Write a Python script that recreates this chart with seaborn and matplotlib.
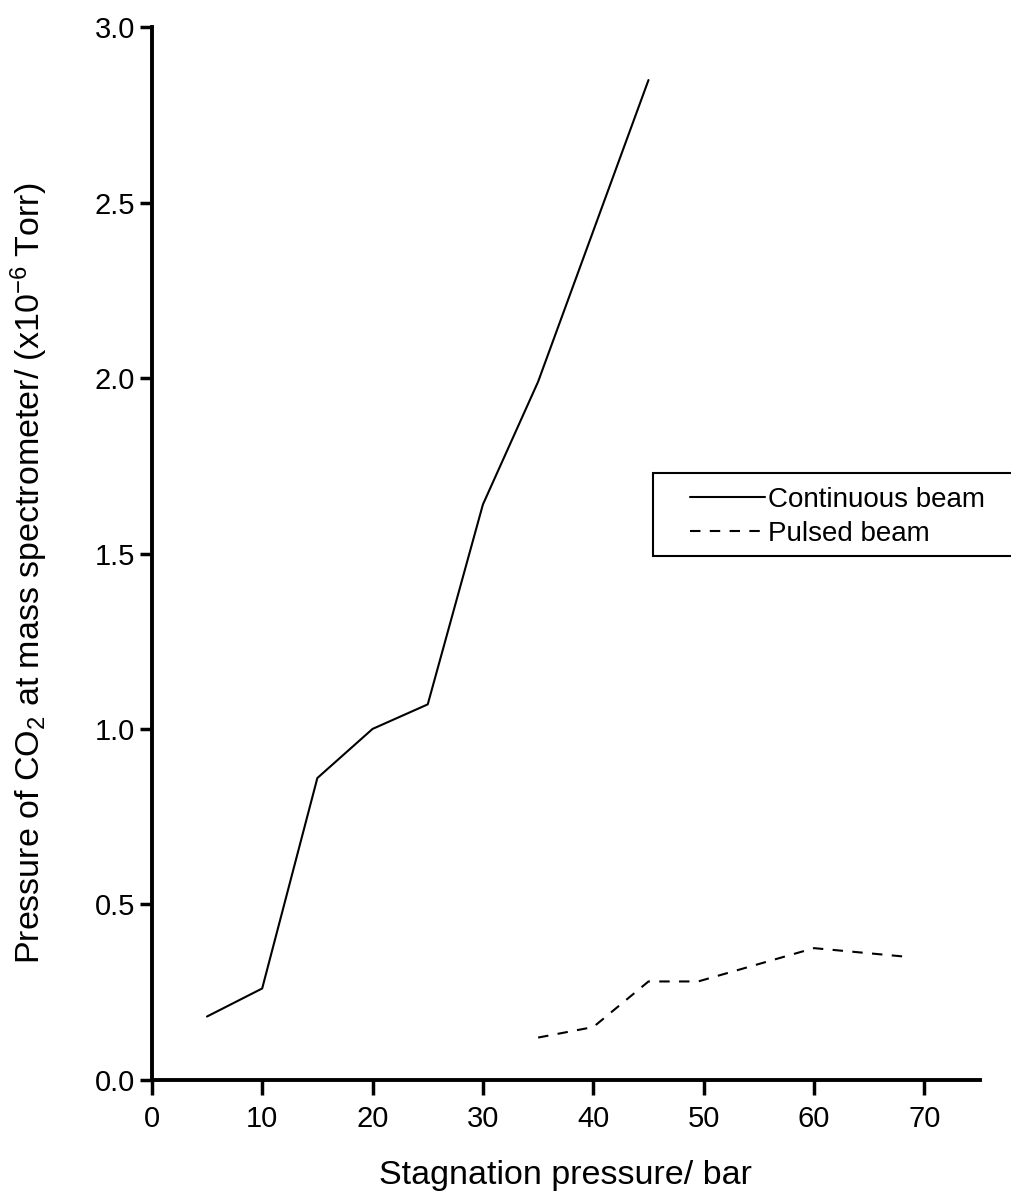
import matplotlib
matplotlib.use("Agg")
import matplotlib.pyplot as plt
from matplotlib.patches import Rectangle
import seaborn as sns
import pandas as pd

# Continuous beam measurements
cont_x = [5, 10, 15, 20, 25, 30, 35, 40, 45]
cont_y = [0.18, 0.26, 0.86, 1.00, 1.07, 1.64, 1.99, 2.42, 2.85]

# Pulsed beam measurements
puls_x = [35, 40, 45, 49.5, 60, 68.5]
puls_y = [0.12, 0.15, 0.28, 0.28, 0.375, 0.35]

series_names = ["Continuous beam", "Pulsed beam"]
x_ticks = [0, 10, 20, 30, 40, 50, 60, 70]
y_ticks = [0.0, 0.5, 1.0, 1.5, 2.0, 2.5, 3.0]

df = pd.DataFrame({
    "x": cont_x + puls_x,
    "y": cont_y + puls_y,
    "beam": [series_names[0]] * len(cont_x) + [series_names[1]] * len(puls_x),
})

sns.set_style("ticks")
plt.rcParams["font.family"] = ["Liberation Sans", "DejaVu Sans"]
plt.rcParams["mathtext.default"] = "regular"
plt.rcParams["text.color"] = "black"
plt.rcParams["axes.labelcolor"] = "black"

fig = plt.figure(figsize=(10.12, 11.93), dpi=100)
ax = fig.add_axes([0.150, 0.095, 0.818, 0.882])

sns.lineplot(
    data=df, x="x", y="y", style="beam", ax=ax,
    color="black", linewidth=1.5, sort=False,
    dashes={series_names[0]: "", series_names[1]: (5, 4.5)},
    legend=True,
)

ax.set_xlim(0, 75)
ax.set_ylim(0, 3.0)
ax.set_xticks(x_ticks)
ax.set_xticklabels([str(t) for t in x_ticks])
ax.set_yticks(y_ticks)
ax.set_yticklabels([f"{t:.1f}" for t in y_ticks])

for side in ("top", "right"):
    ax.spines[side].set_visible(False)
for side in ("left", "bottom"):
    ax.spines[side].set_linewidth(2.8)
    ax.spines[side].set_color("black")

ax.tick_params(axis="x", length=11, width=2.5, labelsize=21, pad=7, colors="black")
ax.tick_params(axis="y", length=9, width=2.5, labelsize=21, pad=3, colors="black")

ax.set_xlabel("Stagnation pressure/ bar", fontsize=24.5, labelpad=20)
ax.set_ylabel("Pressure of CO$_2$ at mass spectrometer/ (x10$^{-6}$ Torr)",
              fontsize=24.5)
ax.yaxis.set_label_coords(-0.123, 0.481)

# Legend box, open past the right edge of the figure
box = Rectangle((653 / 1012, 1 - 556 / 1193), 0.4, 83 / 1193,
                transform=fig.transFigure, facecolor="white",
                edgecolor="black", linewidth=1.5, zorder=4, clip_on=False)
ax.add_patch(box)

leg = ax.legend(
    loc="upper left", bbox_to_anchor=(690 / 1012, 1 - 487 / 1193),
    bbox_transform=fig.transFigure,
    fontsize=20, frameon=False,
    handlelength=2.7, handletextpad=0.1, borderpad=0, labelspacing=0.27,
    borderaxespad=0,
)
leg.set_zorder(6)
for line in leg.get_lines():
    line.set_linewidth(1.5)

fig.savefig("out.png", dpi=100)
